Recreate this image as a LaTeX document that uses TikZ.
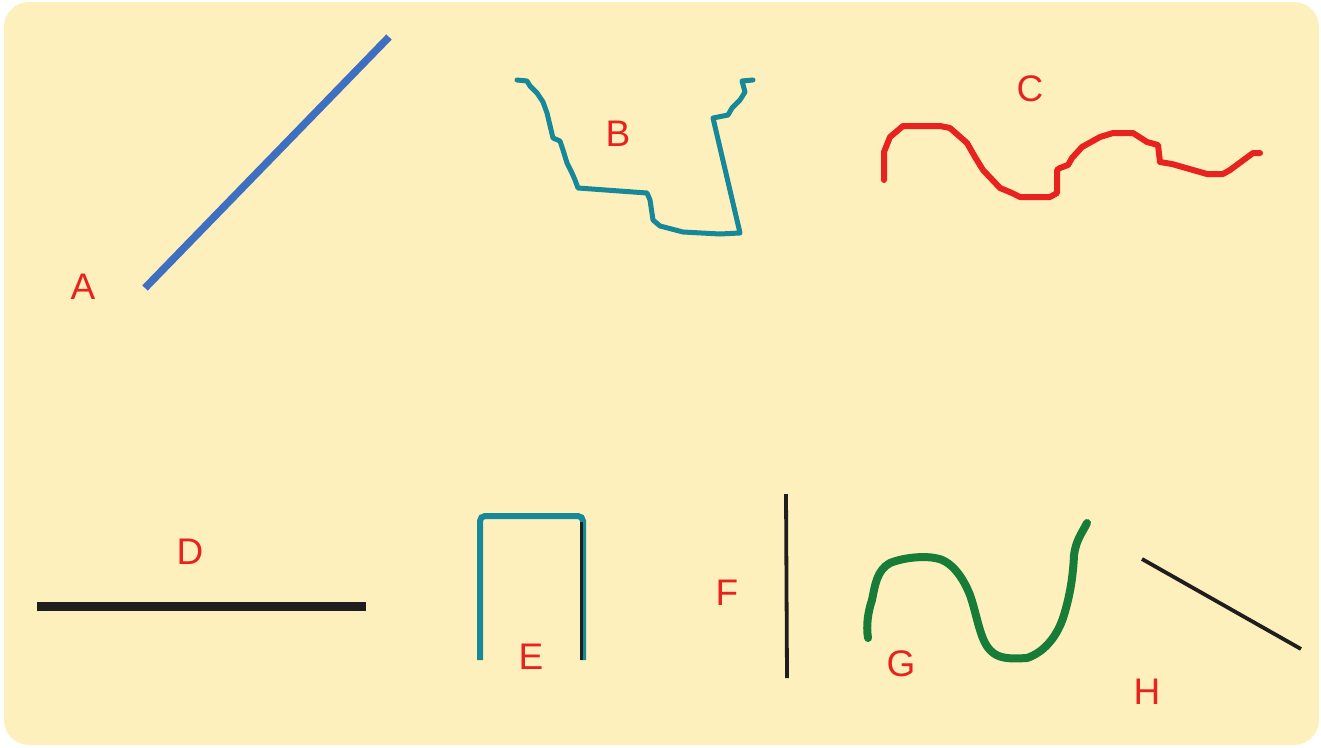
\documentclass[tikz,border=0pt]{standalone}
\usepackage{fontspec}
\setmainfont{Liberation Sans}
\begin{document}
\begin{tikzpicture}[x=1pt,y=-1pt,
  lbl/.style={text=labred,font=\fontsize{37}{37}\selectfont,inner sep=0pt,anchor=center},
  hand/.style={line join=round,line cap=round}]
\definecolor{bgyel}{HTML}{FEF0BC}
\definecolor{labred}{HTML}{E8221F}
\definecolor{linblue}{HTML}{3F6FC1}
\definecolor{linteal}{HTML}{17879A}
\definecolor{lingreen}{HTML}{177C38}
\definecolor{linblack}{HTML}{1E1E1E}
\useasboundingbox (0,0) rectangle (1321,747);
\fill[white] (0,0) rectangle (1321,747);
\fill[bgyel,rounded corners=25pt] (4,2) rectangle (1319,745);
% A
\draw[linblue,line width=7.5pt] (145,288) -- (389,37);
\node[lbl] (la) at (83,287) {A};
% B
\draw[linteal,line width=5pt,hand] (517,80) -- (527,81) -- (530,86) -- (537,93) -- (543,102) -- (547,113) -- (553,138) -- (560,141) -- (563,150) -- (567,163) -- (572,173) -- (575,180) -- (578,188) -- (647,193) -- (650,200) -- (653,220) -- (660,226) -- (683,232) -- (720,234) -- (740,233) -- (713,118) -- (728,115) -- (732,108) -- (740,100) -- (745,92) -- (742,81) -- (753,80);
\node[lbl] (lb) at (618,134) {B};
% C
\draw[labred,line width=6pt,hand] (884,180) -- (884,152) -- (890,137) -- (903,126) -- (940,126) -- (950,128) -- (967,143) -- (975,157) -- (983,170) -- (1000,188) -- (1012,193) -- (1020,197) -- (1050,197) -- (1057,193) -- (1057,170) -- (1060,168) -- (1068,165) -- (1072,158) -- (1082,147) -- (1100,137) -- (1113,133) -- (1133,133) -- (1147,142) -- (1158,145) -- (1160,162) -- (1172,164) -- (1193,170) -- (1207,174) -- (1223,174) -- (1230,170) -- (1253,153) -- (1260,153);
\node[lbl] (lc) at (1030,89) {C};
% D
\draw[linblack,line width=9pt] (37,606) -- (366,606);
\node[lbl] (ld) at (190,552) {D};
% E
\draw[linteal,line width=6pt,rounded corners=5pt] (480,660) -- (480,516) -- (583,516) -- (583,660);
\draw[linblack,line width=3pt] (581,522) -- (581,660);
\node[lbl] (le) at (531,657) {E};
% F
\draw[linblack,line width=3.8pt] (786,494) -- (787,678);
\node[lbl] (lf) at (727,593) {F};
% G
\draw[lingreen,line width=8pt,hand] (868,638) .. controls (866,625) and (868,612) .. (872,600) .. controls (875,585) and (877,570) .. (890,563) .. controls (905,557) and (925,556) .. (935,558) .. controls (950,560) and (962,575) .. (970,595) .. controls (977,615) and (980,640) .. (990,650) .. controls (998,659) and (1010,659) .. (1027,658) .. controls (1045,652) and (1058,635) .. (1064,615) .. controls (1070,595) and (1073,577) .. (1074,555) .. controls (1076,540) and (1082,533) .. (1087,523);
\node[lbl] (lg) at (901,664) {G};
% H
\draw[linblack,line width=3.8pt] (1142,559) -- (1301,649);
\node[lbl] (lh) at (1147,692) {H};
\end{tikzpicture}
\end{document}
